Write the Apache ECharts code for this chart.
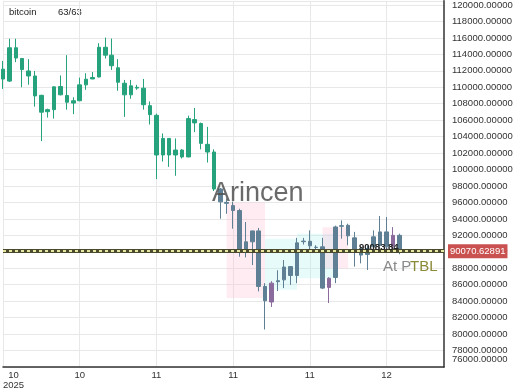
<!DOCTYPE html>
<html><head><meta charset="utf-8">
<script src="https://cdn.jsdelivr.net/npm/echarts@6/dist/echarts.min.js"></script>
<style>html,body{margin:0;padding:0;background:#fff}#c{width:520px;height:390px}</style>
</head><body><div id="c"></div>
<script>
// ---- data ----
const seriesName = 'bitcoin';
const counterText = '63/63';
const slotCount = 70; // 63 candles + empty future slots
const tickIndex = [0, 12, 24, 36, 48, 60];
const tickLabels = ['10\n2025', '10', '11', '11', '11', '12'];
const opens  = [112200,110750,114800,113500,111980,111370,109020,107030,107280,110090,
                109000,108080,108360,110290,111010,111250,114860,113900,112370,110490,
                109080,109990,109890,107760,106590,101770,103780,101770,102370,101530,
                106070,105590,103060,102130,97635,96010,95620,95020,90010,91215,
                92540,85790,83900,86370,86590,88200,87120,91300,91280,90560,
                90610,85670,86880,93100,93220,91700,90400,89680,90610,90800,
                92420,90610,92000];
const closes = [111000,114800,113550,112150,111370,108950,106970,107280,110050,109080,
                108180,108360,110290,110980,111190,114860,113900,112610,110610,109080,
                110170,109900,107880,106670,101770,103780,101770,102370,101530,106190,
                105670,103180,102130,97635,96070,95890,95020,90010,91215,92540,
                85790,84050,86190,86490,88150,87120,91090,91230,90730,90530,
                85590,86790,93020,93180,91940,90010,89600,90400,91820,92420,
                90610,92000,90080];
const lows   = [109800,110650,113050,110000,110300,107640,103460,106310,106190,109020,
                107280,106730,108300,109690,110980,111190,113500,112100,109570,106400,
                108600,109690,107280,105470,98840,100970,100320,99240,101340,101490,
                104540,102460,100850,97390,94020,94620,92810,89400,89320,88390,
                85190,80560,83300,85230,85590,85980,86190,90880,90200,90080,
                85470,83780,86190,91600,90800,88200,88600,87790,90010,90010,
                90010,90200,89700];
const highs  = [113200,115900,115900,113550,113420,111980,109080,107400,110110,111430,
                113900,108780,111170,111700,111850,115350,116040,115920,113420,110890,
                110890,110290,111010,108280,106790,104380,103780,103780,102460,106550,
                107480,105710,105190,102460,97755,96490,96100,95230,93620,92570,
                92900,86190,86430,87760,89000,88240,91700,91690,92610,90800,
                91700,86910,93180,93820,93420,92420,90650,90770,92610,94350,
                94230,93000,92200];
// candle tone groups: n = normal, m = muted (signal zone), p = purple
const tones = 'nnnnnnnnnnnnnnnnnnnnnnnnnnnnnnnnnnmmmmmmmmpmmmmmmmmpmmmmmmmmmpm';
const lastPrice = 90070.62891;
const overlayPrice = '90083.84';
const axisMin = 76000, axisMax = 120500, axisStep = 2000;
// highlight zones
const zoneStart = [35, 41, 46, 50];
const zoneEnd   = [41, 46, 52, 54];
const zoneLow   = [84400, 85400, 86800, 88000];
const zoneHigh  = [96000, 91600, 92200, 93000];
const zoneKind  = ['pink', 'cyan', 'cyan', 'pink'];

// ---- build ----
const categories = [];
for (let i = 0; i < slotCount; i++) categories.push(String(i));
const labelAt = {};
tickIndex.forEach((t, k) => { labelAt[t] = tickLabels[k]; });

const UP = '#26a37c', DOWN = '#e2354e';
const toneStyle = {
  n: { color: UP, color0: DOWN, borderColor: UP, borderColor0: DOWN },
  m: { color: '#5f8094', color0: '#8d6c44', borderColor: '#5f8094', borderColor0: '#8d6c44' },
  p: { color: '#8a6b9c', color0: '#8d6c44', borderColor: '#8a6b9c', borderColor0: '#8d6c44' }
};
const zoneColor = { pink: 'rgba(255,182,210,0.28)', cyan: 'rgba(160,240,240,0.25)' };

const candleData = opens.map((o, i) => ({
  value: [o, closes[i], lows[i], highs[i]],
  itemStyle: toneStyle[tones[i]]
}));

const areaData = zoneStart.map((s, k) => [
  { xAxis: s, yAxis: zoneLow[k], itemStyle: { color: zoneColor[zoneKind[k]] } },
  { xAxis: zoneEnd[k], yAxis: zoneHigh[k] }
]);

function xLabel(v, i) {
  const t = labelAt[i];
  if (!t) return '';
  if (i === tickIndex[0]) return t.split('\n').map(s => '{c|' + s + '}').join('\n');
  return t;
}

const chart = echarts.init(document.getElementById('c'), null, { renderer: 'canvas' });
const FONT = 'Liberation Sans, Arial, sans-serif';
chart.setOption({
  animation: false,
  textStyle: { fontFamily: FONT },
  grid: { left: 3, right: 76, top: 0, bottom: 21 },
  xAxis: {
    type: 'category', data: categories, boundaryGap: false,
    axisLine: { show: true, lineStyle: { color: '#333', width: 1.5 } },
    axisTick: { show: false },
    axisLabel: {
      interval: (i) => labelAt[i] !== undefined,
      formatter: xLabel,
      color: '#333', fontSize: 9.5, margin: 3, lineHeight: 10,
      alignMinLabel: 'left',
      rich: { c: { align: 'center', fontSize: 9.5, lineHeight: 10, color: '#333' } }
    },
    splitLine: { show: true, interval: (i) => labelAt[i] !== undefined, lineStyle: { color: '#e8e8e8', width: 1 } }
  },
  yAxis: [{
    type: 'value', position: 'right', min: axisMin, max: axisMax, interval: axisStep,
    axisLine: { show: true, lineStyle: { color: '#333', width: 1.5 } },
    axisTick: { show: false },
    axisLabel: {
      color: '#333', fontSize: 9.5, margin: 8, showMinLabel: false,
      formatter: (v) => (v % axisStep !== 0 || v === axisMin) ? '' : v.toFixed(5)
    },
    splitLine: { show: true, lineStyle: { color: '#e8e8e8', width: 1 } }
  }, {
    type: 'value', position: 'right', min: axisMin, max: axisMax, interval: axisStep,
    axisLine: { show: false }, axisTick: { show: false }, splitLine: { show: false },
    axisLabel: {
      color: '#333', fontSize: 9.5, margin: 8, showMinLabel: true, verticalAlign: 'bottom',
      padding: [0, 0, 3, 0],
      formatter: (v) => v === axisMin ? v.toFixed(5) : ''
    }
  }],
  series: [{
    name: seriesName,
    type: 'candlestick',
    data: candleData,
    barWidth: 4,
    clip: false,
    itemStyle: { color: UP, color0: DOWN, borderColor: UP, borderColor0: DOWN, borderWidth: 1 },
    markArea: { silent: true, data: areaData },
    markLine: {
      silent: true, symbol: 'none',
      data: [
        { yAxis: lastPrice, lineStyle: { color: '#4a4a2e', width: 4, type: 'solid' },
          label: { show: true, position: 'end', distance: 4, formatter: lastPrice.toFixed(5),
                   color: '#fff', backgroundColor: '#c9514f', padding: [2, 2], fontSize: 9.5 } },
        { yAxis: lastPrice, lineStyle: { color: '#e6e6a0', width: 2, type: [3, 3] },
          label: { show: false } }
      ]
    }
  }],
  graphic: [
    { type: 'text', left: 9, top: 7, style: { text: seriesName, font: '9.5px ' + FONT, fill: '#222' } },
    { type: 'text', left: 58, top: 7, style: { text: counterText, font: '9.5px ' + FONT, fill: '#222' } },
    { type: 'text', left: 212, top: 180, z: 100, style: { text: 'Arincen', font: '27px ' + FONT, fill: 'rgba(80,80,80,0.85)' } },
    { type: 'text', left: 359, top: 242, z: 100, style: { text: overlayPrice, font: 'bold 9.5px ' + FONT, fill: '#222' } },
    { type: 'text', left: 383, top: 259, z: 100, style: { text: 'At P', font: '15px ' + FONT, fill: '#8a8a8a' } },
    { type: 'text', left: 410, top: 259, z: 100, style: { text: 'TBL', font: '15px ' + FONT, fill: '#8b8a36' } }
  ]
});
</script>
</body></html>
